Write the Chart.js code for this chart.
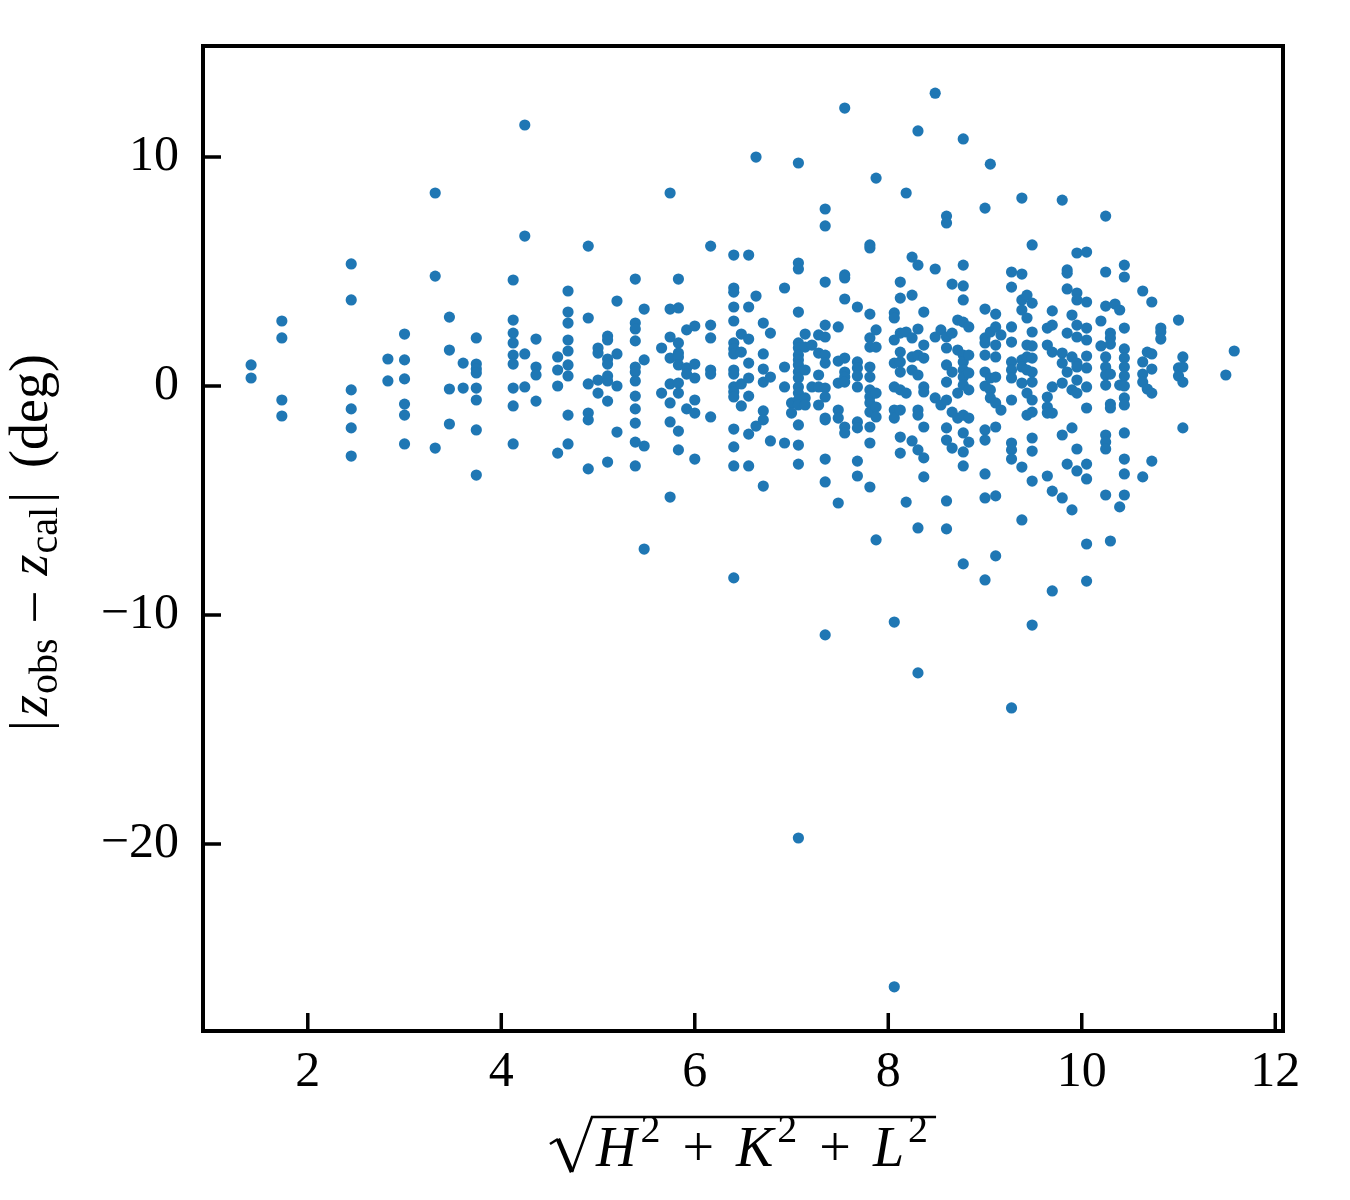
<!DOCTYPE html>
<html>
<head>
<meta charset="utf-8">
<script src="https://cdn.jsdelivr.net/npm/chart.js@4.4.1/dist/chart.umd.min.js"></script>
<style>
  html, body { margin: 0; padding: 0; background: #fff; }
</style>
</head>
<body>
<canvas id="scatterChart" width="1350" height="1200"></canvas>
<script>
// sqrt(H^2+K^2+L^2) for each reflection column
const hklNorm = [
  1.414, 1.732, 2.449, 2.828, 3.0, 3.317, 3.464, 3.606, 3.742, 4.123,
  4.243, 4.359, 4.583, 4.690, 4.899, 5.0, 5.099, 5.196, 5.385, 5.477,
  5.657, 5.745, 5.831, 5.916, 6.0, 6.164, 6.403, 6.481, 6.557, 6.633,
  6.708, 6.782, 6.928, 7.0, 7.071, 7.141, 7.211, 7.280, 7.348, 7.483,
  7.550, 7.681, 7.810, 7.874, 8.062, 8.124, 8.185, 8.246, 8.307, 8.367,
  8.485, 8.544, 8.602, 8.660, 8.718, 8.775, 8.832, 9.0, 9.055, 9.110,
  9.165, 9.274, 9.381, 9.434, 9.487, 9.644, 9.695, 9.798, 9.849, 9.899,
  9.950, 10.050, 10.198, 10.247, 10.296, 10.344, 10.392, 10.440, 10.630, 10.677,
  10.724, 10.817, 11.0, 11.045, 11.489, 11.576
];

// |z_obs - z_cal| (deg) values, one list per column above
const zDiff = [
  // 1.414 .. 4.123
  [0.92, 0.35],
  [2.84, 2.10, -0.61, -1.31],
  [5.33, 3.76, -0.17, -1.00, -1.83, -3.06],
  [1.18, 0.22],
  [2.27, 1.14, 0.31, -0.79, -1.27, -2.53],
  [8.43, 4.80, -2.71],
  [3.01, 1.57, -0.13, -1.66],
  [1.00, -0.09],
  [2.10, 0.96, 0.74, 0.57, -0.09, -0.61, -1.92, -3.89],
  [4.63, 2.88, 2.31, 1.88, 1.35, 0.96, -0.09, -0.87, -2.53],
  // 4.243 .. 5.477
  [11.40, 6.55, 1.40, -0.04],
  [2.05, 0.83, 0.48, -0.66],
  [1.27, 0.70, 0.00, -2.93],
  [4.15, 3.23, 2.75, 2.01, 1.53, 0.92, 0.44, -1.27, -2.53],
  [6.11, 2.97, 0.09, -1.18, -1.48, -3.62],
  [1.66, 1.44, 0.26, -0.31],
  [2.18, 2.01, 1.18, 0.96, 0.44, 0.22, -0.66, -3.32],
  [3.71, 1.40, 0.00, -2.01],
  [4.67, 2.75, 2.49, 1.97, 0.83, 0.61, 0.22, -0.44, -1.00, -1.62, -2.45, -3.49],
  [3.36, 1.14, -2.62, -7.12],
  // 5.657 .. 6.633
  [1.66, -0.31],
  [8.43, 3.36, 2.14, 1.22, 0.09, -0.74, -1.57, -4.85],
  [4.67, 3.41, 1.88, 1.44, 1.27, 0.92, 0.13, -0.31, -1.97, -2.79],
  [2.45, 0.79, 0.52, -1.00],
  [2.62, 0.96, 0.35, -0.61, -1.18, -3.19],
  [6.11, 2.66, 2.10, 0.70, 0.52, -1.35],
  [5.72, 4.28, 4.10, 3.45, 2.84, 1.88, 1.62, 1.40, 0.70, 0.52, -0.04, -0.26, -0.48, -1.88, -2.66, -3.49, -8.38],
  [2.27, 1.48, 0.09, -0.87],
  [5.72, 3.45, 2.05, 1.00, 0.35, -0.44, -2.10, -3.49],
  [10.00, 3.93, -1.75],
  // 6.708 .. 7.483
  [2.75, 1.40, 0.74, 0.17, -1.09, -1.48, -4.37],
  [2.31, 0.39, -2.40],
  [4.28, 0.83, -0.04, -2.49],
  [-0.74, -1.18],
  [9.74, 5.37, 5.11, 3.23, 1.88, 1.66, 1.35, 1.14, 0.92, 0.61, 0.35, -0.04, -0.31, -0.61, -0.83, -1.70, -2.58, -3.41, -19.74],
  [2.27, 1.70, 0.70, -0.52, -0.83],
  [1.79, -0.04],
  [2.23, 1.44, 0.48, -0.04, -0.83],
  [7.73, 6.99, 4.54, 2.66, 2.14, 1.35, 1.00, -0.09, -0.48, -1.40, -1.48, -3.19, -4.19, -10.87],
  [2.58, 1.09, 0.13, -1.05, -1.40, -5.11],
  // 7.550 .. 8.367
  [12.14, 4.85, 4.72, 3.80, 1.22, 0.61, 0.39, 0.17, -1.79, -2.05],
  [3.45, 1.05, 0.79, 0.44, -0.04, -1.57, -1.83, -3.28, -3.93],
  [6.16, 6.03, 3.14, 2.10, 1.70, 0.83, 0.39, -0.17, -0.48, -0.74, -1.14, -1.79, -2.49, -4.41],
  [9.08, 2.45, 1.70, -0.31, -0.92, -1.35, -6.72],
  [3.19, 2.97, 2.01, 1.00, -0.04, -1.05, -1.40, -10.31, -26.24],
  [4.54, 3.84, 2.31, 1.48, 1.05, 0.61, -0.17, -1.05, -2.23, -2.93],
  [8.43, 2.36, -0.31, -5.07],
  [5.63, 3.97, 2.10, 1.27, 0.70, -2.40],
  [11.14, 5.28, 2.49, 1.35, 0.48, -1.05, -1.27, -2.79, -6.20, -12.53],
  [3.23, 1.79, 1.22, -0.04, -0.26, -1.79, -3.14, -3.97],
  // 8.485 .. 9.110
  [12.79, 5.11, 2.14, -0.52],
  [2.45, -0.83],
  [7.42, 7.12, 2.14, 1.66, 0.92, 0.17, -0.61, -1.83, -2.36, -5.02, -6.24],
  [4.45, 2.31, 0.61, -1.14, -2.71],
  [2.88, 1.57, -0.31, -1.40],
  [10.79, 5.28, 4.37, 3.76, 2.79, 1.35, 1.05, 0.70, 0.39, 0.04, -1.27, -2.05, -2.88, -3.49, -7.77],
  [2.58, 1.35, 0.57, -0.17, -1.40, -2.45],
  [7.77, 3.36, 2.10, 1.88, 1.35, 0.61, 0.00, -1.92, -2.36, -3.84, -4.89, -8.47],
  [9.69, 2.36, 0.35, -0.17, -0.52],
  [3.14, 2.58, 1.79, 1.27, 0.39, -0.74, -1.79, -4.80, -7.42],
  // 9.165 .. 9.899
  [2.23, -1.05],
  [4.98, 4.32, 2.58, 1.92, 1.05, 0.70, 0.35, -0.61, -2.49, -2.79, -3.19, -14.06],
  [8.21, 4.89, 3.76, 3.32, 1.14, 0.83, 0.13, -3.54, -5.85],
  [3.97, 2.97, 1.79, 1.27, 0.70, -0.31, -1.27],
  [6.16, 3.62, 2.36, 1.75, 1.22, 0.61, 0.17, -0.61, -1.14, -2.27, -2.84, -4.15, -10.44],
  [2.53, 1.79, -0.48, -0.92, -1.18, -3.93],
  [3.28, 2.66, 1.48, -0.04, -1.18, -4.59, -8.95],
  [8.12, 1.44, 1.00, 0.13, -2.14, -4.89],
  [5.07, 4.93, 4.24, 2.31, 0.61, -3.41],
  [3.10, 1.27, -0.17, -1.83, -5.41],
  // 9.950 .. 10.677
  [5.81, 4.06, 3.76, 2.66, 2.14, 1.00, 0.83, 0.26, -0.31, -2.75, -3.71],
  [5.85, 3.67, 2.53, 2.01, 1.31, 0.79, -0.04, -0.96, -3.41, -4.06, -6.90, -8.52],
  [2.84, 1.75],
  [7.42, 4.98, 3.49, 1.27, 0.83, 0.48, 0.04, -2.14, -2.45, -2.75, -4.76],
  [2.31, 2.10, 1.83, 0.52, -0.79, -0.96, -6.77],
  [3.58],
  [3.32, 0.04, -5.28],
  [5.28, 4.76, 2.53, 1.62, 1.22, 0.83, 0.44, 0.00, -0.52, -0.83, -2.05, -3.19, -3.84, -4.76],
  [4.15, 1.05, 0.52, 0.17, -3.97],
  [1.48, -0.13],
  // 10.724 .. 11.576
  [3.67, 1.40, 0.74, -0.31, -3.28],
  [2.53, 2.36, 2.05],
  [2.88, 0.79, 0.44],
  [1.27, 0.83, 0.17, -1.83],
  [0.48],
  [1.53]
];

const xTicks = [2, 4, 6, 8, 10, 12];
const yTicks = [-20, -10, 0, 10];

const serif = "'Liberation Serif', 'DejaVu Serif', serif";
const points = hklNorm.flatMap((x, i) => zDiff[i].map(z => ({ x: x, y: z })));

function drawRuns(ctx, runs, startX, baseY) {
    let cx = startX;
    runs.forEach(r => {
        ctx.font = r.font;
        cx += r.gapBefore || 0;
        ctx.fillText(r.text, cx, baseY + (r.dy || 0));
        cx += ctx.measureText(r.text).width + (r.gapAfter || 0);
    });
    return cx;
}

function runsWidth(ctx, runs) {
    let w = 0;
    runs.forEach(r => {
        ctx.font = r.font;
        w += (r.gapBefore || 0) + ctx.measureText(r.text).width + (r.gapAfter || 0);
    });
    return w;
}

const axisDecor = {
    id: 'axisDecor',
    afterDatasetsDraw(chart) {
        const { ctx, chartArea: a, scales: { x, y } } = chart;
        ctx.save();
        ctx.strokeStyle = '#000';
        ctx.lineWidth = 3.5;
        ctx.beginPath();
        xTicks.forEach(v => {
            const px = x.getPixelForValue(v);
            ctx.moveTo(px, a.bottom);
            ctx.lineTo(px, a.bottom - 18);
        });
        yTicks.forEach(v => {
            const py = y.getPixelForValue(v);
            ctx.moveTo(a.left, py);
            ctx.lineTo(a.left + 18, py);
        });
        ctx.stroke();
        ctx.lineWidth = 4;
        ctx.strokeRect(a.left, a.top, a.right - a.left, a.bottom - a.top);
        ctx.restore();
    },
    afterDraw(chart) {
        const ctx = chart.ctx;
        const a = chart.chartArea;
        ctx.save();
        ctx.fillStyle = '#000';
        ctx.textBaseline = 'alphabetic';
        ctx.textAlign = 'left';

        // x axis title: sqrt(H^2 + K^2 + L^2)
        const big = `56px ${serif}`, ital = `italic 56px ${serif}`, sup = `40px ${serif}`;
        const xRuns = [
            { text: 'H', font: ital },
            { text: '2', font: sup, dy: -24, gapBefore: 4 },
            { text: '+', font: big, gapBefore: 22, gapAfter: 22 },
            { text: 'K', font: ital },
            { text: '2', font: sup, dy: -24, gapBefore: 4 },
            { text: '+', font: big, gapBefore: 22, gapAfter: 22 },
            { text: 'L', font: ital },
            { text: '2', font: sup, dy: -24, gapBefore: 4 }
        ];
        const radW = 46;
        const textW = runsWidth(ctx, xRuns);
        const total = radW + textW + 8;
        const rx = (a.left + a.right) / 2 - total / 2;
        const base = 1166;
        const endX = drawRuns(ctx, xRuns, rx + radW, base);
        ctx.strokeStyle = '#000';
        ctx.lineJoin = 'miter';
        ctx.lineWidth = 2.5;
        ctx.beginPath();
        ctx.moveTo(rx, base - 22);
        ctx.lineTo(rx + 8, base - 27);
        ctx.stroke();
        ctx.lineWidth = 4.5;
        ctx.beginPath();
        ctx.moveTo(rx + 8, base - 27);
        ctx.lineTo(rx + 22, base + 6);
        ctx.stroke();
        ctx.lineWidth = 2.5;
        ctx.beginPath();
        ctx.moveTo(rx + 22, base + 6);
        ctx.lineTo(rx + 42, 1117);
        ctx.lineTo(endX + 8, 1117);
        ctx.stroke();

        // y axis title: |z_obs - z_cal| (deg)
        const yBig = `54px ${serif}`, yItal = `italic 54px ${serif}`, sub = `40px ${serif}`;
        const yRuns = [
            { text: '|', font: yBig },
            { text: 'z', font: yItal, gapBefore: 4 },
            { text: 'obs', font: sub, dy: 10, gapBefore: 1 },
            { text: '\u2013', font: yBig, gapBefore: 18, gapAfter: 18 },
            { text: 'z', font: yItal },
            { text: 'cal', font: sub, dy: 10, gapBefore: 1 },
            { text: '|', font: yBig, gapBefore: 4 },
            { text: '(deg)', font: yBig, gapBefore: 24 }
        ];
        const yW = runsWidth(ctx, yRuns);
        ctx.translate(47, (a.top + a.bottom) / 2 + 4);
        ctx.rotate(-Math.PI / 2);
        drawRuns(ctx, yRuns, -yW / 2, 0);
        ctx.restore();
    }
};

const ctx = document.getElementById('scatterChart').getContext('2d');
new Chart(ctx, {
    type: 'scatter',
    data: {
        datasets: [{
            label: 'zDiff',
            data: points,
            backgroundColor: '#1f77b4',
            borderWidth: 0,
            pointRadius: 5.6,
            pointHoverRadius: 5.6
        }]
    },
    options: {
        responsive: false,
        animation: false,
        layout: { padding: { top: 46, right: 67, left: 0, bottom: 0 } },
        plugins: {
            legend: { display: false },
            tooltip: { enabled: false }
        },
        scales: {
            x: {
                type: 'linear',
                min: 0.917,
                max: 12.08,
                grid: { display: false, drawTicks: false },
                border: { display: false },
                afterFit: s => { s.height = 169; s.paddingLeft = 0; s.paddingRight = 0; },
                afterBuildTicks: s => { s.ticks = xTicks.map(v => ({ value: v })); },
                ticks: {
                    color: '#000',
                    padding: 12,
                    font: { family: serif, size: 50 },
                    maxRotation: 0,
                    callback: v => String(v)
                }
            },
            y: {
                type: 'linear',
                min: -28.17,
                max: 14.85,
                grid: { display: false, drawTicks: false },
                border: { display: false },
                afterFit: s => { s.width = 203; s.paddingTop = 0; s.paddingBottom = 0; },
                afterBuildTicks: s => { s.ticks = yTicks.map(v => ({ value: v })); },
                ticks: {
                    color: '#000',
                    padding: 24,
                    font: { family: serif, size: 50 },
                    callback: v => v < 0 ? '\u2212' + Math.abs(v) : String(v)
                }
            }
        }
    },
    plugins: [axisDecor]
});
</script>
</body>
</html>
